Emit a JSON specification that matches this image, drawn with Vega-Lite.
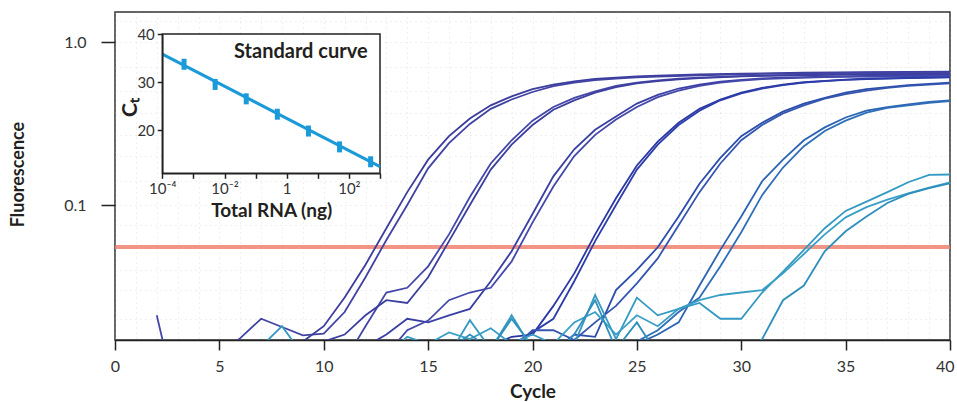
{
"$schema":"https://vega.github.io/schema/vega-lite/v6.json",
"width":835,"height":328,
"autosize":{"type":"none"},
"padding":{"left":115,"top":12,"right":7,"bottom":62},
"background":"white",
"config":{"view":{"stroke":"#333","strokeWidth":1.5},"font":"Lato"},
"datasets":{
"thr":[{"f":0.0552}],
"curves":[
{"s":"1a","c":8,"f":0.012},{"s":"1a","c":9,"f":0.0145},{"s":"1a","c":10,"f":0.018},{"s":"1a","c":11,"f":0.027},{"s":"1a","c":12,"f":0.043},{"s":"1a","c":13,"f":0.072},{"s":"1a","c":14,"f":0.12},{"s":"1a","c":15,"f":0.19},{"s":"1a","c":16,"f":0.265},{"s":"1a","c":17,"f":0.34},{"s":"1a","c":18,"f":0.41},{"s":"1a","c":19,"f":0.465},{"s":"1a","c":20,"f":0.515},{"s":"1a","c":21,"f":0.55},{"s":"1a","c":22,"f":0.575},{"s":"1a","c":23,"f":0.595},{"s":"1a","c":24,"f":0.607},{"s":"1a","c":25,"f":0.617},{"s":"1a","c":26,"f":0.624},{"s":"1a","c":28,"f":0.634},{"s":"1a","c":30,"f":0.642},{"s":"1a","c":33,"f":0.65},{"s":"1a","c":36,"f":0.655},{"s":"1a","c":40,"f":0.66},
{"s":"1b","c":5,"f":0.012},{"s":"1b","c":6,"f":0.0152},{"s":"1b","c":7,"f":0.02},{"s":"1b","c":8,"f":0.0178},{"s":"1b","c":9,"f":0.0158},{"s":"1b","c":10,"f":0.0162},{"s":"1b","c":11,"f":0.022},{"s":"1b","c":12,"f":0.036},{"s":"1b","c":13,"f":0.061},{"s":"1b","c":14,"f":0.1},{"s":"1b","c":15,"f":0.168},{"s":"1b","c":16,"f":0.24},{"s":"1b","c":17,"f":0.315},{"s":"1b","c":18,"f":0.39},{"s":"1b","c":19,"f":0.445},{"s":"1b","c":20,"f":0.495},{"s":"1b","c":21,"f":0.537},{"s":"1b","c":22,"f":0.565},{"s":"1b","c":23,"f":0.585},{"s":"1b","c":24,"f":0.598},{"s":"1b","c":25,"f":0.608},{"s":"1b","c":26,"f":0.616},{"s":"1b","c":28,"f":0.627},{"s":"1b","c":30,"f":0.636},{"s":"1b","c":33,"f":0.645},{"s":"1b","c":36,"f":0.65},{"s":"1b","c":40,"f":0.655},
{"s":"2a","c":2,"f":0.021},{"s":"2a","c":3,"f":0.006},{"s":"2a","c":10,"f":0.008},{"s":"2a","c":11,"f":0.011},{"s":"2a","c":12,"f":0.018},{"s":"2a","c":13,"f":0.029},{"s":"2a","c":14,"f":0.031},{"s":"2a","c":15,"f":0.042},{"s":"2a","c":16,"f":0.066},{"s":"2a","c":17,"f":0.112},{"s":"2a","c":18,"f":0.18},{"s":"2a","c":19,"f":0.25},{"s":"2a","c":20,"f":0.33},{"s":"2a","c":21,"f":0.4},{"s":"2a","c":22,"f":0.455},{"s":"2a","c":23,"f":0.5},{"s":"2a","c":24,"f":0.54},{"s":"2a","c":25,"f":0.565},{"s":"2a","c":26,"f":0.583},{"s":"2a","c":27,"f":0.597},{"s":"2a","c":28,"f":0.607},{"s":"2a","c":30,"f":0.62},{"s":"2a","c":32,"f":0.628},{"s":"2a","c":35,"f":0.637},{"s":"2a","c":40,"f":0.645},
{"s":"2b","c":9,"f":0.01},{"s":"2b","c":10,"f":0.0145},{"s":"2b","c":11,"f":0.016},{"s":"2b","c":12,"f":0.021},{"s":"2b","c":13,"f":0.026},{"s":"2b","c":14,"f":0.025},{"s":"2b","c":15,"f":0.036},{"s":"2b","c":16,"f":0.06},{"s":"2b","c":17,"f":0.1},{"s":"2b","c":18,"f":0.165},{"s":"2b","c":19,"f":0.235},{"s":"2b","c":20,"f":0.31},{"s":"2b","c":21,"f":0.385},{"s":"2b","c":22,"f":0.44},{"s":"2b","c":23,"f":0.49},{"s":"2b","c":24,"f":0.53},{"s":"2b","c":25,"f":0.56},{"s":"2b","c":26,"f":0.578},{"s":"2b","c":27,"f":0.592},{"s":"2b","c":28,"f":0.603},{"s":"2b","c":30,"f":0.617},{"s":"2b","c":32,"f":0.625},{"s":"2b","c":35,"f":0.633},{"s":"2b","c":40,"f":0.64},
{"s":"3a","c":11,"f":0.011},{"s":"3a","c":12,"f":0.0135},{"s":"3a","c":13,"f":0.016},{"s":"3a","c":14,"f":0.02},{"s":"3a","c":15,"f":0.019},{"s":"3a","c":16,"f":0.021},{"s":"3a","c":17,"f":0.023},{"s":"3a","c":18,"f":0.034},{"s":"3a","c":19,"f":0.052},{"s":"3a","c":20,"f":0.088},{"s":"3a","c":21,"f":0.15},{"s":"3a","c":22,"f":0.22},{"s":"3a","c":23,"f":0.29},{"s":"3a","c":24,"f":0.35},{"s":"3a","c":25,"f":0.42},{"s":"3a","c":26,"f":0.475},{"s":"3a","c":27,"f":0.52},{"s":"3a","c":28,"f":0.55},{"s":"3a","c":29,"f":0.572},{"s":"3a","c":30,"f":0.588},{"s":"3a","c":31,"f":0.6},{"s":"3a","c":32,"f":0.607},{"s":"3a","c":34,"f":0.616},{"s":"3a","c":36,"f":0.622},{"s":"3a","c":40,"f":0.63},
{"s":"3b","c":12,"f":0.011},{"s":"3b","c":13,"f":0.012},{"s":"3b","c":14,"f":0.017},{"s":"3b","c":15,"f":0.0195},{"s":"3b","c":16,"f":0.026},{"s":"3b","c":17,"f":0.029},{"s":"3b","c":18,"f":0.031},{"s":"3b","c":19,"f":0.045},{"s":"3b","c":20,"f":0.078},{"s":"3b","c":21,"f":0.13},{"s":"3b","c":22,"f":0.2},{"s":"3b","c":23,"f":0.27},{"s":"3b","c":24,"f":0.335},{"s":"3b","c":25,"f":0.4},{"s":"3b","c":26,"f":0.46},{"s":"3b","c":27,"f":0.505},{"s":"3b","c":28,"f":0.54},{"s":"3b","c":29,"f":0.565},{"s":"3b","c":30,"f":0.582},{"s":"3b","c":31,"f":0.593},{"s":"3b","c":32,"f":0.6},{"s":"3b","c":34,"f":0.61},{"s":"3b","c":36,"f":0.616},{"s":"3b","c":40,"f":0.623},
{"s":"4a","c":17,"f":0.012},{"s":"4a","c":18,"f":0.0135},{"s":"4a","c":19,"f":0.0155},{"s":"4a","c":20,"f":0.016},{"s":"4a","c":21,"f":0.024},{"s":"4a","c":22,"f":0.038},{"s":"4a","c":23,"f":0.066},{"s":"4a","c":24,"f":0.11},{"s":"4a","c":25,"f":0.175},{"s":"4a","c":26,"f":0.245},{"s":"4a","c":27,"f":0.32},{"s":"4a","c":28,"f":0.39},{"s":"4a","c":29,"f":0.445},{"s":"4a","c":30,"f":0.49},{"s":"4a","c":31,"f":0.525},{"s":"4a","c":32,"f":0.55},{"s":"4a","c":33,"f":0.568},{"s":"4a","c":34,"f":0.58},{"s":"4a","c":35,"f":0.59},{"s":"4a","c":36,"f":0.597},{"s":"4a","c":38,"f":0.605},{"s":"4a","c":40,"f":0.61},
{"s":"4b","c":18,"f":0.012},{"s":"4b","c":19,"f":0.0138},{"s":"4b","c":20,"f":0.0165},{"s":"4b","c":21,"f":0.02},{"s":"4b","c":22,"f":0.034},{"s":"4b","c":23,"f":0.06},{"s":"4b","c":24,"f":0.1},{"s":"4b","c":25,"f":0.165},{"s":"4b","c":26,"f":0.235},{"s":"4b","c":27,"f":0.31},{"s":"4b","c":28,"f":0.38},{"s":"4b","c":29,"f":0.44},{"s":"4b","c":30,"f":0.485},{"s":"4b","c":31,"f":0.52},{"s":"4b","c":32,"f":0.545},{"s":"4b","c":33,"f":0.565},{"s":"4b","c":34,"f":0.578},{"s":"4b","c":35,"f":0.588},{"s":"4b","c":36,"f":0.595},{"s":"4b","c":38,"f":0.603},{"s":"4b","c":40,"f":0.608},
{"s":"5a","c":21,"f":0.0125},{"s":"5a","c":22,"f":0.016},{"s":"5a","c":23,"f":0.0155},{"s":"5a","c":24,"f":0.03},{"s":"5a","c":25,"f":0.04},{"s":"5a","c":26,"f":0.055},{"s":"5a","c":27,"f":0.085},{"s":"5a","c":28,"f":0.135},{"s":"5a","c":29,"f":0.195},{"s":"5a","c":30,"f":0.265},{"s":"5a","c":31,"f":0.32},{"s":"5a","c":32,"f":0.375},{"s":"5a","c":33,"f":0.42},{"s":"5a","c":34,"f":0.455},{"s":"5a","c":35,"f":0.49},{"s":"5a","c":36,"f":0.515},{"s":"5a","c":37,"f":0.53},{"s":"5a","c":38,"f":0.545},{"s":"5a","c":39,"f":0.555},{"s":"5a","c":40,"f":0.565},
{"s":"5b","c":19,"f":0.013},{"s":"5b","c":20,"f":0.017},{"s":"5b","c":21,"f":0.017},{"s":"5b","c":22,"f":0.0148},{"s":"5b","c":23,"f":0.019},{"s":"5b","c":24,"f":0.024},{"s":"5b","c":25,"f":0.033},{"s":"5b","c":26,"f":0.047},{"s":"5b","c":27,"f":0.075},{"s":"5b","c":28,"f":0.12},{"s":"5b","c":29,"f":0.18},{"s":"5b","c":30,"f":0.25},{"s":"5b","c":31,"f":0.31},{"s":"5b","c":32,"f":0.365},{"s":"5b","c":33,"f":0.41},{"s":"5b","c":34,"f":0.45},{"s":"5b","c":35,"f":0.48},{"s":"5b","c":36,"f":0.505},{"s":"5b","c":37,"f":0.525},{"s":"5b","c":38,"f":0.54},{"s":"5b","c":39,"f":0.55},{"s":"5b","c":40,"f":0.56},
{"s":"6a","c":24,"f":0.013},{"s":"6a","c":25,"f":0.014},{"s":"6a","c":26,"f":0.016},{"s":"6a","c":27,"f":0.019},{"s":"6a","c":28,"f":0.032},{"s":"6a","c":29,"f":0.053},{"s":"6a","c":30,"f":0.085},{"s":"6a","c":31,"f":0.14},{"s":"6a","c":32,"f":0.19},{"s":"6a","c":33,"f":0.25},{"s":"6a","c":34,"f":0.3},{"s":"6a","c":35,"f":0.345},{"s":"6a","c":36,"f":0.38},{"s":"6a","c":37,"f":0.4},{"s":"6a","c":38,"f":0.415},{"s":"6a","c":39,"f":0.43},{"s":"6a","c":40,"f":0.44},
{"s":"6b","c":24,"f":0.012},{"s":"6b","c":25,"f":0.0145},{"s":"6b","c":26,"f":0.017},{"s":"6b","c":27,"f":0.022},{"s":"6b","c":28,"f":0.027},{"s":"6b","c":29,"f":0.042},{"s":"6b","c":30,"f":0.068},{"s":"6b","c":31,"f":0.115},{"s":"6b","c":32,"f":0.17},{"s":"6b","c":33,"f":0.23},{"s":"6b","c":34,"f":0.285},{"s":"6b","c":35,"f":0.33},{"s":"6b","c":36,"f":0.37},{"s":"6b","c":37,"f":0.395},{"s":"6b","c":38,"f":0.41},{"s":"6b","c":39,"f":0.425},{"s":"6b","c":40,"f":0.435},
{"s":"7a","c":6,"f":0.011},{"s":"7a","c":7,"f":0.0135},{"s":"7a","c":8,"f":0.018},{"s":"7a","c":9,"f":0.012},{"s":"7a","c":16,"f":0.012},{"s":"7a","c":17,"f":0.0196},{"s":"7a","c":18,"f":0.013},{"s":"7a","c":19,"f":0.021},{"s":"7a","c":20,"f":0.013},{"s":"7a","c":22,"f":0.014},{"s":"7a","c":23,"f":0.028},{"s":"7a","c":24,"f":0.015},{"s":"7a","c":25,"f":0.027},{"s":"7a","c":26,"f":0.021},{"s":"7a","c":27,"f":0.023},{"s":"7a","c":28,"f":0.025},{"s":"7a","c":29,"f":0.02},{"s":"7a","c":30,"f":0.02},{"s":"7a","c":31,"f":0.029},{"s":"7a","c":32,"f":0.039},{"s":"7a","c":33,"f":0.053},{"s":"7a","c":34,"f":0.072},{"s":"7a","c":35,"f":0.092},{"s":"7a","c":36,"f":0.105},{"s":"7a","c":37,"f":0.12},{"s":"7a","c":38,"f":0.138},{"s":"7a","c":39,"f":0.153},{"s":"7a","c":40,"f":0.154},
{"s":"7b","c":13,"f":0.012},{"s":"7b","c":14,"f":0.0155},{"s":"7b","c":15,"f":0.014},{"s":"7b","c":16,"f":0.0165},{"s":"7b","c":17,"f":0.015},{"s":"7b","c":18,"f":0.0175},{"s":"7b","c":19,"f":0.014},{"s":"7b","c":20,"f":0.016},{"s":"7b","c":21,"f":0.014},{"s":"7b","c":22,"f":0.019},{"s":"7b","c":23,"f":0.022},{"s":"7b","c":24,"f":0.016},{"s":"7b","c":25,"f":0.021},{"s":"7b","c":26,"f":0.018},{"s":"7b","c":27,"f":0.023},{"s":"7b","c":28,"f":0.026},{"s":"7b","c":29,"f":0.028},{"s":"7b","c":30,"f":0.029},{"s":"7b","c":31,"f":0.03},{"s":"7b","c":32,"f":0.038},{"s":"7b","c":33,"f":0.05},{"s":"7b","c":34,"f":0.066},{"s":"7b","c":35,"f":0.084},{"s":"7b","c":36,"f":0.097},{"s":"7b","c":37,"f":0.108},{"s":"7b","c":38,"f":0.118},{"s":"7b","c":39,"f":0.128},{"s":"7b","c":40,"f":0.138},
{"s":"7c","c":15,"f":0.012},{"s":"7c","c":16,"f":0.013},{"s":"7c","c":17,"f":0.016},{"s":"7c","c":18,"f":0.013},{"s":"7c","c":19,"f":0.02},{"s":"7c","c":20,"f":0.0135},{"s":"7c","c":21,"f":0.012},{"s":"7c","c":22,"f":0.016},{"s":"7c","c":23,"f":0.026},{"s":"7c","c":24,"f":0.013},{"s":"7c","c":25,"f":0.019},{"s":"7c","c":26,"f":0.012},{"s":"7c","c":30,"f":0.012},{"s":"7c","c":31,"f":0.015},{"s":"7c","c":32,"f":0.026},{"s":"7c","c":33,"f":0.032},{"s":"7c","c":34,"f":0.052},{"s":"7c","c":35,"f":0.069},{"s":"7c","c":36,"f":0.085},{"s":"7c","c":37,"f":0.103},{"s":"7c","c":38,"f":0.117},{"s":"7c","c":39,"f":0.127},{"s":"7c","c":40,"f":0.136}
],
"box":[{"ng":0.0001,"ng2":1000,"ct":11,"ct2":40}],
"fit":[{"ng":0.0001,"ct":35.8},{"ng":1000,"ct":12.4}],
"pts":[{"ng":0.0005,"ct":33.7},{"ng":0.005,"ct":29.5},{"ng":0.05,"ct":26.5},{"ng":0.5,"ct":23.3},{"ng":5,"ct":19.8},{"ng":50,"ct":16.5},{"ng":500,"ct":13.4}],
"lbl":[{"ng":400,"ct":36.3,"t":"Standard curve"}]
},
"layer":[
{"layer":[
 {"data":{"name":"thr"},"mark":{"type":"rule","color":"#f07a67","strokeWidth":4,"opacity":0.8},
  "encoding":{"y":{"field":"f","type":"quantitative","scale":{"type":"log","domain":[0.01481,1.535],"nice":false}}}},
 {"data":{"name":"curves"},"mark":{"type":"line","clip":true,"strokeWidth":1.8},
  "encoding":{
   "x":{"field":"c","type":"quantitative","scale":{"domain":[0,40],"nice":false,"zero":false},
     "axis":{"orient":"bottom","values":[0,1,2,3,4,5,6,7,8,9,10,11,12,13,14,15,16,17,18,19,20,21,22,23,24,25,26,27,28,29,30,31,32,33,34,35,36,37,38,39,40],
       "grid":true,"gridColor":"#bbbbbb","gridDash":[1,4],"gridOpacity":0.45,
       "tickOpacity":{"condition":{"test":"datum.value % 5 == 0","value":1},"value":0},
       "labelExpr":"datum.value % 5 == 0 ? datum.label : ''","labelOverlap":false,"labelFlush":false,
       "labelAlign":{"condition":{"test":"datum.value == 40","value":"right"},"value":"center"},
       "labelOffset":{"condition":{"test":"datum.value == 40","value":4},"value":0},
       "tickSize":10,"tickColor":"#222","tickWidth":1.5,"domainColor":"#222","domainWidth":1.5,
       "labelFont":"Lato","labelFontSize":16,"labelColor":"#333","labelPadding":8,
       "title":"Cycle","titleFont":"Lato","titleFontSize":19,"titleFontWeight":"bold","titleColor":"#231f20","titleY":51,"titleBaseline":"middle"}},
   "y":{"field":"f","type":"quantitative","scale":{"type":"log","domain":[0.01481,1.535],"nice":false},
     "axis":{"orient":"left","values":[0.02,0.03,0.04,0.055,0.075,0.1,0.14,0.2,0.27,0.37,0.5,0.7,1,1.35],
       "grid":true,"gridColor":"#bbbbbb","gridDash":[1,4],"gridOpacity":0.45,
       "tickOpacity":{"condition":{"test":"datum.value == 1 || datum.value == 0.1","value":1},"value":0},
       "labelExpr":"datum.value == 1 ? '1.0' : (datum.value == 0.1 ? '0.1' : '')","labelOverlap":false,"labelFlush":false,
       "tickSize":14,"tickColor":"#222","tickWidth":1.5,"domain":false,
       "labelFont":"Lato","labelFontSize":16,"labelColor":"#333","labelPadding":15,
       "title":"Fluorescence","titleFont":"Lato","titleFontSize":18,"titleFontWeight":"bold","titleColor":"#231f20","titleX":-97,"titleY":162,"titleAngle":270,"titleBaseline":"middle","titleAlign":"center"}},
   "color":{"field":"s","type":"nominal","legend":null,
     "scale":{"domain":["1a","1b","2a","2b","3a","3b","4a","4b","5a","5b","6a","6b","7a","7b","7c"],
       "range":["#3b3c9c","#4143a3","#4547a8","#3d3f9f","#3a3fa3","#4448ab","#2a37a5","#2d3da9","#2b4dab","#3456b0","#2b64b3","#2f6fb9","#3399c2","#3a9fc6","#2f8fbc"]}}
  }}
]},
{"layer":[
 {"data":{"name":"box"},"mark":{"type":"rect","fill":"white","stroke":"#222","strokeWidth":1.5},
  "encoding":{
   "x":{"field":"ng","type":"quantitative","scale":{"type":"log","domain":[0.0001,1000],"range":[47.3,265],"nice":false},
     "axis":{"orient":"bottom","offset":-166.7,"values":[0.0001,0.001,0.01,0.1,1,10,100,1000],"zindex":1,"grid":false,
       "labelExpr":"datum.value < 0.0005 ? '10⁻⁴' : (datum.value > 0.005 && datum.value < 0.05 ? '10⁻²' : (datum.value > 0.5 && datum.value < 5 ? '1' : (datum.value > 50 && datum.value < 500 ? '10²' : '')))",
       "labelOverlap":false,"labelFlush":false,"tickSize":5,"tickColor":"#222","tickWidth":1.5,"domainColor":"#222","domainWidth":1.5,
       "labelFont":"Lato","labelFontSize":15,"labelColor":"#333","labelPadding":3,
       "title":"Total RNA (ng)","titleFont":"Lato","titleFontSize":19,"titleFontWeight":"bold","titleColor":"#231f20","titleY":37,"titleBaseline":"middle"}},
   "x2":{"field":"ng2"},
   "y":{"field":"ct","type":"quantitative","scale":{"domain":[11,40],"range":[161.3,22],"nice":false,"zero":false},
     "axis":{"orient":"left","offset":-47.3,"values":[20,30,40],"zindex":1,"grid":false,
       "tickSize":5,"tickColor":"#222","tickWidth":1.5,"domainColor":"#222","domainWidth":1.5,
       "labelFont":"Lato","labelFontSize":15,"labelColor":"#333","labelPadding":3,
       "title":"Cₜ","titleFont":"Lato","titleFontSize":21,"titleFontWeight":"bold","titleColor":"#231f20","titleX":-32,"titleY":95,"titleAngle":270,"titleBaseline":"middle","titleAlign":"center"}},
   "y2":{"field":"ct2"}
  }},
 {"data":{"name":"fit"},"mark":{"type":"line","color":"#1a9ad8","strokeWidth":3},
  "encoding":{"x":{"field":"ng","type":"quantitative"},"y":{"field":"ct","type":"quantitative"}}},
 {"data":{"name":"pts"},"mark":{"type":"tick","orient":"vertical","color":"#1a9ad8","thickness":5,"size":11,"opacity":1},
  "encoding":{"x":{"field":"ng","type":"quantitative"},"y":{"field":"ct","type":"quantitative"}}},
 {"data":{"name":"lbl"},"mark":{"type":"text","align":"right","baseline":"middle","font":"Lato","fontSize":20,"fontWeight":"bold","color":"#231f20"},
  "encoding":{"x":{"field":"ng","type":"quantitative"},"y":{"field":"ct","type":"quantitative"},"text":{"field":"t"}}}
]}
],
"resolve":{"scale":{"x":"independent","y":"independent","color":"independent"},"axis":{"x":"independent","y":"independent"}}
}
